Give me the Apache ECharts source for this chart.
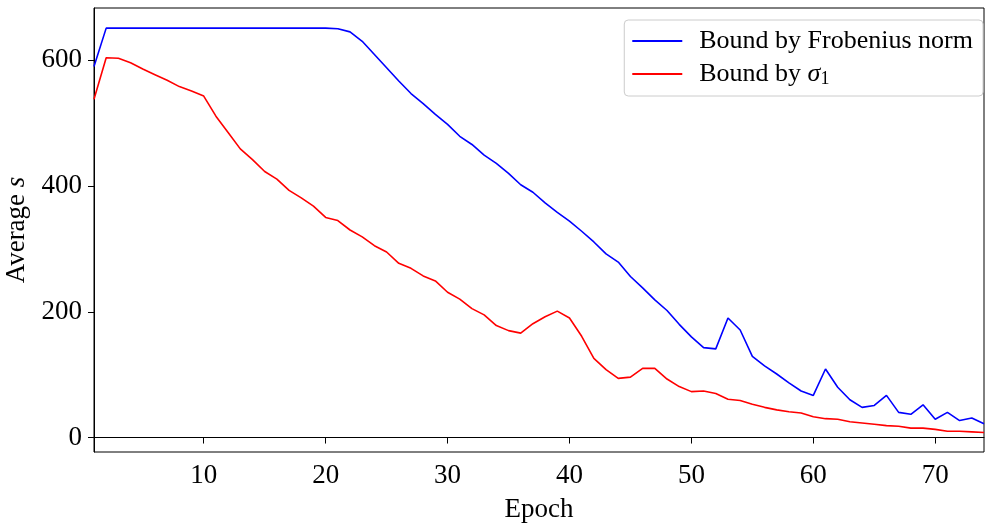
<!DOCTYPE html>
<html>
<head>
<meta charset="utf-8">
<script src="https://cdn.jsdelivr.net/npm/echarts@6/dist/echarts.min.js"></script>
<style>html,body{margin:0;padding:0;background:#fff}#c{width:985px;height:525px}</style>
</head>
<body>
<div id="c"></div>
<script>
var epochs = [1,2,3,4,5,6,7,8,9,10,11,12,13,14,15,16,17,18,19,20,21,22,23,24,25,26,27,28,29,30,31,32,33,34,35,36,37,38,39,40,41,42,43,44,45,46,47,48,49,50,51,52,53,54,55,56,57,58,59,60,61,62,63,64,65,66,67,68,69,70,71,72,73,74];
var frobenius = [590,651,651,651,651,651,651,651,651,651,651,651,651,651,651,651,651,651,651,651,650,645,630,609,588,567,547,531,514,498,479,466,449,436,420,402,390,373,358,344,328,311,292,279,256,238,219,202,180,160,143,141,190,171,129,114,101,87,74,67,109,80,60,48,51,67,40,37,52,29,40,27,31,22];
var sigma1 = [538,604,603,596,586,577,568,558,551,543,511,485,459,442,423,411,393,381,368,350,345,330,319,305,295,277,269,257,249,231,220,205,195,178,170,166,181,192,201,190,161,126,108,94,96,110,110,93,81,73,74,70,61,59,53,48,44,41,39,33,30,29,25,23,21,19,18,15,15,13,10,10,9,8];
var xTicks = [10,20,30,40,50,60,70];
var yTicks = [0,200,400,600];
var seriesNames = ['Bound by Frobenius norm', 'Bound by sigma1'];

function pairs(ys){ return epochs.map(function(e,i){ return [e, ys[i]]; }); }

var FONT = 'Liberation Serif';
var chart = echarts.init(document.getElementById('c'), null, {renderer:'canvas'});
chart.setOption({
  animation: false,
  backgroundColor: '#fff',
  grid: {left: 94, right: 1, top: 8, bottom: 73, show: true, borderColor: '#000', borderWidth: 1,
         containLabel: false, outerBoundsMode: 'none'},
  legend: {
    right: 2, top: 20, orient: 'vertical',
    backgroundColor: 'rgba(255,255,255,0.8)',
    borderColor: '#cccccc', borderWidth: 1, borderRadius: 4,
    padding: [8, 10, 8, 8], itemGap: 7,
    itemWidth: 50, itemHeight: 2, icon: 'rect',
    data: seriesNames,
    formatter: function(n){ return n === 'Bound by sigma1' ? 'Bound by {i|σ}{s|1}' : n; },
    textStyle: {fontFamily: FONT, fontSize: 26, color: '#000', padding: [0,0,0,12],
      rich: {i: {fontFamily: FONT, fontStyle: 'italic', fontSize: 26, color: '#000'},
             s: {fontFamily: FONT, fontSize: 18, color: '#000', padding: [10,0,0,0]}}}
  },
  xAxis: {
    type: 'value', min: 1, max: 74,
    name: 'Epoch', nameLocation: 'middle', nameGap: 44,
    nameTextStyle: {fontFamily: FONT, fontSize: 27, color: '#000'},
    axisLine: {show: true, lineStyle: {color: '#000', width: 1}},
    axisTick: {show: true, length: 6, lineStyle: {color: '#000'}, customValues: xTicks},
    axisLabel: {fontFamily: FONT, fontSize: 27, color: '#000', margin: 10, customValues: xTicks},
    splitLine: {show: false}
  },
  yAxis: {
    type: 'value', min: -23, max: 683,
    name: 'Average {i|s}', nameLocation: 'middle', nameGap: 57,
    nameTextStyle: {fontFamily: FONT, fontSize: 27, color: '#000',
      rich: {i: {fontFamily: FONT, fontStyle: 'italic', fontSize: 27, color: '#000'}}},
    axisLine: {show: true, lineStyle: {color: '#000', width: 1}},
    axisTick: {show: true, length: 6, lineStyle: {color: '#000'}, customValues: yTicks},
    axisLabel: {fontFamily: FONT, fontSize: 27, color: '#000', margin: 12, customValues: yTicks},
    splitLine: {show: false}
  },
  series: [
    {name: seriesNames[0], type: 'line', data: pairs(frobenius), showSymbol: false, symbol: 'none',
     lineStyle: {color: '#0000ff', width: 1.6}, itemStyle: {color: '#0000ff'}},
    {name: seriesNames[1], type: 'line', data: pairs(sigma1), showSymbol: false, symbol: 'none',
     lineStyle: {color: '#ff0000', width: 1.6}, itemStyle: {color: '#ff0000'}}
  ]
});
</script>
</body>
</html>
